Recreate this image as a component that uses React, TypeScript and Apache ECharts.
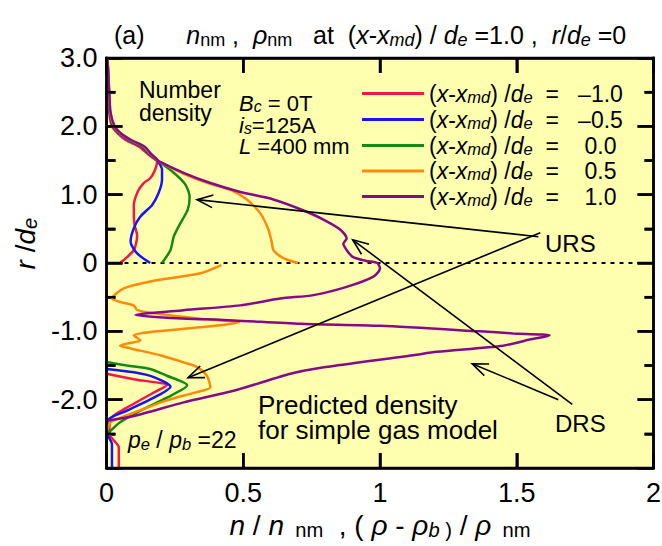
import React, { useEffect, useRef } from 'react';
import * as echarts from 'echarts';

const FONT = '"Liberation Sans", Arial, sans-serif';
const W = 662;
const H = 546;
const GRID = { left: 106.5, right: 8.5, top: 58, bottom: 78 };
const X_RANGE = [0, 2];
const Y_RANGE = [-3, 3];

// legend values (x - x_md)/d_e
const positions = ['–1.0', '–0.5', ' 0.0', ' 0.5', ' 1.0'];
const colors = ['#F5154A', '#1414F5', '#128A12', '#FF8A0A', '#850A8A'];

// axis ticks
const xTickVals = [0.5, 1, 1.5];
const yMajorVals = [-2, -1, 0, 1, 2];
const yMinorVals = [-2.5, -1.5, -0.5, 0.5, 1.5, 2.5];

// [n/n_nm, r/d_e]; null = gap in the curve
const redData: ([number, number] | null)[] = [
  [0.003, 3.0], [0.005, 2.8], [0.007, 2.5], [0.01, 2.2], [0.02, 2.0], [0.04, 1.9], [0.07, 1.8],
  [0.12, 1.7], [0.15, 1.6], [0.175, 1.52], [0.185, 1.49], [0.176, 1.35], [0.16, 1.24], [0.136, 1.17],
  [0.115, 1.05], [0.1, 0.85], [0.1, 0.7], [0.103, 0.55], [0.112, 0.4], [0.1, 0.19], [0.05, 0.0],
  null,
  [0.0, -1.62], [0.1, -1.7], [0.221, -1.79], [0.185, -1.87], [0.1, -2.06], [0.015, -2.28],
  [0.01, -2.5], [0.045, -2.7], [0.045, -3.0],
];
const blueData: ([number, number] | null)[] = [
  [0.003, 3.0], [0.006, 2.8], [0.009, 2.5], [0.012, 2.2], [0.025, 2.0], [0.045, 1.9], [0.08, 1.8],
  [0.13, 1.7], [0.155, 1.6], [0.18, 1.52], [0.188, 1.49], [0.203, 1.37], [0.203, 1.22], [0.19, 1.02],
  [0.167, 0.85], [0.124, 0.68], [0.1, 0.51], [0.088, 0.31], [0.112, 0.14], [0.16, 0.0],
  null,
  [0.0, -1.55], [0.1, -1.6], [0.173, -1.67], [0.234, -1.81], [0.173, -1.97], [0.075, -2.16],
  [0.003, -2.31], [0.003, -2.5], [0.02, -2.65], [0.02, -3.0],
];
const greenData: ([number, number] | null)[] = [
  [0.003, 3.0], [0.006, 2.8], [0.009, 2.5], [0.013, 2.2], [0.026, 2.0], [0.047, 1.9], [0.083, 1.8],
  [0.133, 1.7], [0.158, 1.6], [0.182, 1.52], [0.19, 1.49], [0.246, 1.32], [0.288, 1.15], [0.304, 0.97],
  [0.297, 0.78], [0.27, 0.58], [0.246, 0.39], [0.234, 0.19], [0.203, 0.0],
  null,
  [0.0, -1.45], [0.075, -1.5], [0.16, -1.55], [0.221, -1.65], [0.295, -1.79], [0.221, -1.97],
  [0.124, -2.16], [0.05, -2.33], [0.003, -2.5],
];
const orangeData: ([number, number] | null)[] = [
  [0.003, 3.0], [0.006, 2.8], [0.01, 2.5], [0.014, 2.2], [0.028, 2.0], [0.05, 1.9], [0.088, 1.8],
  [0.138, 1.7], [0.16, 1.6], [0.183, 1.52], [0.19, 1.49], [0.28, 1.31], [0.37, 1.17], [0.42, 1.11],
  [0.46, 1.06], [0.513, 0.93], [0.562, 0.73], [0.592, 0.49], [0.605, 0.29], [0.61, 0.19],
  [0.647, 0.07], [0.7, 0.0],
  null,
  [0.42, -0.03], [0.343, -0.15], [0.16, -0.27], [0.063, -0.37], [0.02, -0.52], [0.05, -0.57],
  [0.1, -0.62], [0.112, -0.69], [0.221, -0.76], [0.38, -0.83], [0.485, -0.87], [0.343, -0.94],
  [0.16, -1.01], [0.1, -1.06], [0.124, -1.13], [0.075, -1.18], [0.05, -1.21], [0.088, -1.25],
  [0.197, -1.35], [0.295, -1.47], [0.33, -1.52], [0.367, -1.65], [0.38, -1.82], [0.33, -1.89],
  [0.221, -2.01], [0.1, -2.19], [0.015, -2.33], [0.003, -2.45],
];
const purpleData: ([number, number] | null)[] = [
  [0.003, 3.0], [0.006, 2.8], [0.01, 2.5], [0.015, 2.2], [0.03, 2.0], [0.052, 1.9], [0.09, 1.8],
  [0.14, 1.7], [0.162, 1.6], [0.184, 1.52], [0.19, 1.49], [0.282, 1.32], [0.38, 1.17], [0.489, 1.04],
  [0.61, 0.93], [0.732, 0.75], [0.805, 0.61], [0.854, 0.49], [0.878, 0.36], [0.866, 0.28],
  [0.878, 0.19], [0.9, 0.09], [0.95, 0.03], [0.99, 0.0], [1.0, -0.08], [0.976, -0.2],
  [0.878, -0.35], [0.757, -0.47], [0.635, -0.52], [0.489, -0.62], [0.282, -0.69], [0.106, -0.76],
  [0.221, -0.8], [0.465, -0.84], [0.708, -0.89], [1.0, -0.92], [1.365, -1.0], [1.486, -1.03],
  [1.62, -1.06], [1.547, -1.12], [1.45, -1.21], [1.207, -1.3], [1.122, -1.35], [0.757, -1.55],
  [0.672, -1.62], [0.465, -1.87], [0.282, -2.04], [0.1, -2.24], [0.0, -2.31],
];
const seriesData = [redData, blueData, greenData, orangeData, purpleData];

// annotation arrows: [tail, tip] in data units
const ursArrows = [
  [[1.579, 0.385], [0.331, 0.927]],
  [[1.586, 0.444], [0.298, -1.68]],
];
const drsArrows = [
  [[1.703, -2.07], [0.9, 0.34]],
  [[1.652, -2.0], [1.337, -1.474]],
];

const base = { fontFamily: FONT, color: '#000', fontWeight: 'normal' };
const mkRich = (size: number, lh: number) => ({
  n: { ...base, fontSize: size, lineHeight: lh },
  i: { ...base, fontSize: size, lineHeight: lh, fontStyle: 'italic' },
  s: { ...base, fontSize: size * 0.72, lineHeight: size * 0.72, verticalAlign: 'bottom' },
  si: { ...base, fontSize: size * 0.72, lineHeight: size * 0.72, verticalAlign: 'bottom', fontStyle: 'italic' },
});

const legendName = (i: number) => `(x-xmd)/de = ${positions[i]}`;
const legendRowCenters = [94, 120, 146, 171.5, 197];

// same linear mapping as the value axes of the grid
const plotW = W - GRID.left - GRID.right;
const plotH = H - GRID.top - GRID.bottom;
const px = (p: number[]) => [
  GRID.left + ((p[0] - X_RANGE[0]) / (X_RANGE[1] - X_RANGE[0])) * plotW,
  GRID.top + ((Y_RANGE[1] - p[1]) / (Y_RANGE[1] - Y_RANGE[0])) * plotH,
];

function buildGraphics() {
  const arrow = (tail: number[], tip: number[]) => {
    const a = px(tail);
    const b = px(tip);
    const ang = Math.atan2(a[1] - b[1], a[0] - b[0]);
    const L = 17;
    const w = 0.38;
    const h1 = [b[0] + L * Math.cos(ang + w), b[1] + L * Math.sin(ang + w)];
    const h2 = [b[0] + L * Math.cos(ang - w), b[1] + L * Math.sin(ang - w)];
    return [
      { type: 'line', shape: { x1: a[0], y1: a[1], x2: b[0], y2: b[1] }, style: { stroke: '#000', lineWidth: 1.6 }, z: 30 },
      { type: 'polyline', shape: { points: [h1, b, h2] }, style: { stroke: '#000', lineWidth: 1.6, fill: 'none' }, z: 30 },
    ];
  };
  const txt = (x: number, y: number, text: string, size: number, lh: number) => ({
    type: 'text',
    x,
    y,
    z: 30,
    style: { text, rich: mkRich(size, lh), fontFamily: FONT, fontSize: size, fill: '#000' },
  });
  const tl = px([X_RANGE[0], Y_RANGE[1]]);
  const br = px([X_RANGE[1], Y_RANGE[0]]);
  const T = 2.5;
  const bar = (x: number, y: number, w: number, h: number) => ({
    type: 'rect',
    z: 25,
    shape: { x, y, width: w, height: h },
    style: { fill: '#000' },
  });
  const ticks: any[] = [];
  xTickVals.forEach((v) => {
    const x = px([v, 0])[0];
    ticks.push(bar(x - T / 2, br[1] - 15, T, 15), bar(x - T / 2, tl[1], T, 15));
  });
  yMajorVals.forEach((v) => {
    const y = px([0, v])[1];
    ticks.push(bar(tl[0], y - T / 2, 16, T), bar(br[0] - 16, y - T / 2, 16, T));
  });
  yMinorVals.forEach((v) => {
    const y = px([0, v])[1];
    ticks.push(bar(tl[0], y - T / 2, 9, T), bar(br[0] - 9, y - T / 2, 9, T));
  });
  const frame = [
    bar(tl[0] - T / 2, tl[1] - T / 2, br[0] - tl[0] + T, T),
    bar(tl[0] - T / 2, br[1] - T / 2, br[0] - tl[0] + T, T),
    bar(tl[0] - T / 2, tl[1] - T / 2, T, br[1] - tl[1] + T),
    bar(br[0] - T / 2, tl[1] - T / 2, T, br[1] - tl[1] + T),
  ];
  return [
    {
      type: 'rect',
      z: -100,
      silent: true,
      shape: { x: tl[0], y: tl[1], width: br[0] - tl[0], height: br[1] - tl[1] },
      style: { fill: '#FFFFB0' },
    },
    ...frame,
    ...ticks,
    ...ursArrows.flatMap((a) => arrow(a[0], a[1])),
    ...drsArrows.flatMap((a) => arrow(a[0], a[1])),
    txt(139, 78, '{n|Number}\n{n|density}', 23, 23),
    txt(239, 93, '{i|B}{si|c}{n| = 0T}\n{i|i}{si|s}{n|=125A}\n{i|L}{n| =400 mm}', 22, 21.5),
    txt(545, 230, '{n|URS}', 24, 26),
    txt(555, 410, '{n|DRS}', 24, 26),
    txt(258, 392, '{n|Predicted density}\n{n|for simple gas model}', 26, 25),
    txt(128, 427, '{i|p}{si|e}{n| / }{i|p}{si|b}{n| =22}', 23, 26),
  ];
}

export default function App() {
  const ref = useRef<HTMLDivElement>(null);
  useEffect(() => {
    if (!ref.current) return;
    const chart = echarts.init(ref.current, undefined, { renderer: 'svg' });
    const lineSt = { color: '#000', width: 2.5 };
    const tickSt = { show: true, inside: true, length: 16, lineStyle: { color: '#000', width: 2.5 } };
    const minorSt = { show: true, splitNumber: 2, length: 9, lineStyle: { color: '#000', width: 2.5 } };
    const option: any = {
      animation: false,
      backgroundColor: '#fff',
      title: {
        left: 114,
        top: 21,
        padding: 0,
        text:
          '{n|(a)      }{i|n}{s|nm}{n| ,  }{i|ρ}{s|nm}{n|   at  (}{i|x}{n|-}{i|x}{si|md}{n|) / }{i|d}{si|e}{n| =1.0 ,  }{i|r}{n|/}{i|d}{si|e}{n| =0}',
        textStyle: { fontWeight: 'normal', rich: mkRich(25, 28) },
      },
      grid: {
        ...GRID,
        show: false,
        outerBoundsMode: 'none',
        containLabel: false,
      },
      legend: positions.map((_, i) => ({
        orient: 'vertical',
        left: 362,
        top: legendRowCenters[i] - 12,
        padding: 0,
        itemWidth: 62,
        itemHeight: 3,
        icon: 'rect',
        data: [legendName(i)],
        formatter: () =>
          `{n|(}{i|x}{n|-}{i|x}{si|md}{n|) /}{i|d}{si|e}{n|  =   ${positions[i]}}`,
        textStyle: { rich: mkRich(23, 24) },
      })),
      xAxis: [
        {
          type: 'value',
          min: X_RANGE[0],
          max: X_RANGE[1],
          interval: 0.5,
          position: 'bottom',
          z: 9,
          axisLine: { show: true, onZero: false, lineStyle: lineSt },
          axisTick: { ...tickSt, length: 15 },
          splitLine: { show: false },
          axisLabel: {
            show: true,
            fontFamily: FONT,
            fontSize: 27,
            color: '#000',
            margin: 11,
            formatter: (v: number) => String(v),
          },
          name: '{i|n}{n| / }{i|n}{s|  nm}{n|  , ( }{i|ρ}{n| - }{i|ρ}{si|b}{s| )}{n| / }{i|ρ}{s|  nm}',
          nameLocation: 'middle',
          nameGap: 42,
          nameTextStyle: { rich: mkRich(28, 30) },
        },
        {
          type: 'value',
          min: X_RANGE[0],
          max: X_RANGE[1],
          interval: 0.5,
          position: 'top',
          z: 9,
          axisLine: { show: true, onZero: false, lineStyle: lineSt },
          axisTick: { ...tickSt, length: 15 },
          splitLine: { show: false },
          axisLabel: { show: false },
        },
      ],
      yAxis: [
        {
          type: 'value',
          min: Y_RANGE[0],
          max: Y_RANGE[1],
          interval: 1,
          position: 'left',
          z: 9,
          axisLine: { show: true, onZero: false, lineStyle: lineSt },
          axisTick: tickSt,
          minorTick: minorSt,
          splitLine: { show: false },
          axisLabel: {
            show: true,
            fontFamily: FONT,
            fontSize: 27,
            color: '#000',
            margin: 9,
            formatter: (v: number) => (v === -3 ? '' : v === 0 ? '0' : v.toFixed(1)),
          },
          name: '{n|     }{i|r}{n| /}{i|d}{si|e}',
          nameLocation: 'middle',
          nameRotate: 90,
          nameGap: 66,
          nameTextStyle: { rich: mkRich(28, 30) },
        },
        {
          type: 'value',
          min: Y_RANGE[0],
          max: Y_RANGE[1],
          interval: 1,
          position: 'right',
          z: 9,
          axisLine: { show: true, onZero: false, lineStyle: lineSt },
          axisTick: tickSt,
          minorTick: minorSt,
          splitLine: { show: false },
          axisLabel: { show: false },
        },
      ],
      series: seriesData.map((d, i) => ({
        type: 'line',
        name: legendName(i),
        data: d.map((p) => (p ? p : [null, null])),
        connectNulls: false,
        showSymbol: false,
        smooth: 0.25,
        color: colors[i],
        lineStyle: { color: colors[i], width: 2.5 },
        z: 12 + i,
        markLine:
          i === 0
            ? {
                silent: true,
                symbol: ['none', 'none'],
                label: { show: false },
                lineStyle: { color: '#000', type: [4, 5], width: 2 },
                data: [{ yAxis: 0 }],
                z: 11,
              }
            : undefined,
      })),
      graphic: buildGraphics(),
    };
    chart.setOption(option);
    return () => chart.dispose();
  }, []);
  return (
    <div
      ref={ref}
      style={{ position: 'absolute', left: 0, top: 0, width: W, height: H }}
    />
  );
}
